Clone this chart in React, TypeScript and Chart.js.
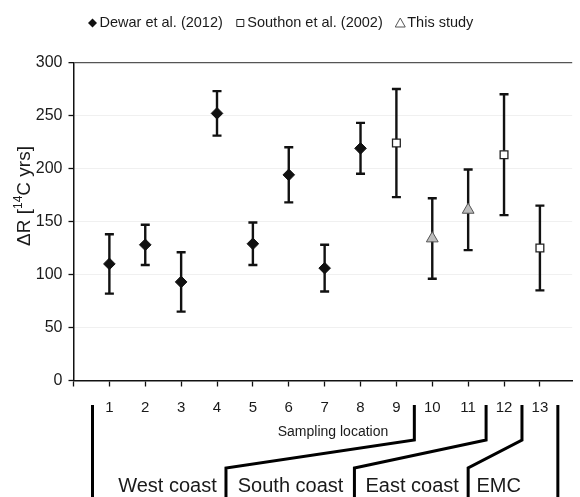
import React, { useEffect, useRef } from 'react';
import { Chart, registerables } from 'chart.js';

Chart.register(...registerables);

// ---- data ----
const dewarLocations = [1, 2, 3, 4, 5, 6, 7, 8];
const dewarValues = [110, 128, 93, 252, 129, 194, 106, 219];
const dewarErrors = [28, 19, 28, 21, 20, 26, 22, 24];

const southonLocations = [9, 12, 13];
const southonValues = [224, 213, 125];
const southonErrors = [51, 57, 40];

const studyLocations = [10, 11];
const studyValues = [134, 161];
const studyErrors = [38, 38];

const xTickLabels = ['1', '2', '3', '4', '5', '6', '7', '8', '9', '10', '11', '12', '13'];
const yTickValues = [0, 50, 100, 150, 200, 250, 300];
const legendLabels = ['Dewar et al. (2012)', 'Southon et al. (2002)', 'This study'];
const regionNames = ['West coast', 'South coast', 'East coast', 'EMC'];
const xAxisTitle = 'Sampling location';

const FONT = '"Liberation Sans", Arial, sans-serif';
const TEXT = '#1a1a1a';

const errorBarPlugin = {
  id: 'errorBars',
  beforeDatasetsDraw(chart: any) {
    const ctx = chart.ctx;
    const ys = chart.scales.y;
    ctx.save();
    ctx.strokeStyle = '#111';
    ctx.lineWidth = 2.4;
    chart.data.datasets.forEach((ds: any, di: number) => {
      const meta = chart.getDatasetMeta(di);
      meta.data.forEach((el: any, i: number) => {
        const v = ds.data[i].y;
        const e = ds.errors[i];
        const x = el.x;
        const yt = ys.getPixelForValue(v + e);
        const yb = ys.getPixelForValue(v - e);
        ctx.beginPath();
        ctx.moveTo(x, yt);
        ctx.lineTo(x, yb);
        ctx.moveTo(x - 4.5, yt);
        ctx.lineTo(x + 4.5, yt);
        ctx.moveTo(x - 4.5, yb);
        ctx.lineTo(x + 4.5, yb);
        ctx.stroke();
      });
    });
    ctx.restore();
  },
};

function drawMarker(ctx: CanvasRenderingContext2D, kind: string, cx: number, cy: number) {
  ctx.save();
  ctx.beginPath();
  if (kind === 'diamond') {
    ctx.moveTo(cx - 4.5, cy);
    ctx.lineTo(cx, cy - 4.5);
    ctx.lineTo(cx + 4.5, cy);
    ctx.lineTo(cx, cy + 4.5);
    ctx.closePath();
    ctx.fillStyle = '#111';
    ctx.fill();
  } else if (kind === 'square') {
    ctx.rect(cx - 3.5, cy - 3.5, 7, 7);
    ctx.fillStyle = '#fff';
    ctx.fill();
    ctx.strokeStyle = '#222';
    ctx.lineWidth = 1;
    ctx.stroke();
  } else {
    ctx.moveTo(cx, cy - 5);
    ctx.lineTo(cx + 5, cy + 4);
    ctx.lineTo(cx - 5, cy + 4);
    ctx.closePath();
    ctx.fillStyle = '#fff';
    ctx.fill();
    ctx.strokeStyle = '#555';
    ctx.lineWidth = 1;
    ctx.stroke();
  }
  ctx.restore();
}

const decorPlugin = {
  id: 'decor',
  afterDraw(chart: any) {
    const ctx: CanvasRenderingContext2D = chart.ctx;
    const xs = chart.scales.x;
    const H = chart.height;
    ctx.save();

    // legend
    ctx.font = `14.5px ${FONT}`;
    ctx.fillStyle = TEXT;
    ctx.textBaseline = 'middle';
    ctx.textAlign = 'left';
    const kinds = ['diamond', 'square', 'triangle'];
    let cursor = 88;
    const ly = 23;
    legendLabels.forEach((lab, i) => {
      drawMarker(ctx, kinds[i], cursor + 4.5, ly);
      ctx.fillStyle = TEXT;
      ctx.fillText(lab, cursor + 11.5, ly);
      cursor = cursor + 11.5 + ctx.measureText(lab).width + 13;
    });

    // y axis title with superscript
    ctx.save();
    ctx.translate(23, 196);
    ctx.rotate(-Math.PI / 2);
    const big = `19px ${FONT}`;
    const small = `12px ${FONT}`;
    const p1 = '\u0394R [';
    const p2 = '14';
    const p3 = 'C yrs]';
    ctx.font = big;
    const w1 = ctx.measureText(p1).width;
    const w3 = ctx.measureText(p3).width;
    ctx.font = small;
    const w2 = ctx.measureText(p2).width;
    let tx = -(w1 + w2 + w3) / 2;
    ctx.textBaseline = 'alphabetic';
    ctx.fillStyle = TEXT;
    ctx.font = big;
    ctx.fillText(p1, tx, 7);
    tx += w1;
    ctx.font = small;
    ctx.fillText(p2, tx, -1);
    tx += w2;
    ctx.font = big;
    ctx.fillText(p3, tx, 7);
    ctx.restore();

    // x axis title
    ctx.font = `14px ${FONT}`;
    ctx.textAlign = 'center';
    ctx.textBaseline = 'middle';
    ctx.fillStyle = TEXT;
    ctx.fillText(xAxisTitle, 333, 432);

    // region brackets
    const top = 405;
    const elbow = 440;
    const foot = 468;
    ctx.strokeStyle = '#000';
    ctx.lineWidth = 3;
    ctx.lineJoin = 'miter';
    const vline = (xv: number) => {
      const px = xs.getPixelForValue(xv);
      ctx.beginPath();
      ctx.moveTo(px, top);
      ctx.lineTo(px, H);
      ctx.stroke();
    };
    vline(0.53);
    vline(13.5);
    const bend = (xTop: number, xBottom: number) => {
      const a = xs.getPixelForValue(xTop);
      const b = xs.getPixelForValue(xBottom);
      ctx.beginPath();
      ctx.moveTo(a, top);
      ctx.lineTo(a, elbow);
      ctx.lineTo(b, foot);
      ctx.lineTo(b, H);
      ctx.stroke();
    };
    bend(9.5, 4.25);
    bend(11.5, 7.83);
    bend(12.5, 11.0);

    // region labels
    const centers = [2.62, 6.05, 9.44, 11.85];
    ctx.font = `20px ${FONT}`;
    ctx.fillStyle = TEXT;
    ctx.textAlign = 'center';
    ctx.textBaseline = 'middle';
    regionNames.forEach((name, i) => {
      ctx.fillText(name, xs.getPixelForValue(centers[i]), 486);
    });

    ctx.restore();
  },
};

export default function App() {
  const ref = useRef<HTMLCanvasElement | null>(null);

  useEffect(() => {
    document.body.style.margin = '0';
    const canvas = ref.current;
    if (!canvas) return;
    const mk = (locs: number[], vals: number[]) => locs.map((x, i) => ({ x, y: vals[i] }));
    const chart = new Chart(canvas, {
      type: 'scatter',
      data: {
        datasets: [
          {
            label: legendLabels[0],
            data: mk(dewarLocations, dewarValues),
            errors: dewarErrors,
            pointStyle: 'rectRot',
            pointRadius: 5.8,
            backgroundColor: '#111',
            borderColor: '#111',
            borderWidth: 1,
          } as any,
          {
            label: legendLabels[1],
            data: mk(southonLocations, southonValues),
            errors: southonErrors,
            pointStyle: 'rect',
            pointRadius: 5.5,
            backgroundColor: '#fff',
            borderColor: '#222',
            borderWidth: 1.3,
          } as any,
          {
            label: legendLabels[2],
            data: mk(studyLocations, studyValues),
            errors: studyErrors,
            pointStyle: 'triangle',
            pointRadius: 6.8,
            backgroundColor: '#bdbdbd',
            borderColor: '#555',
            borderWidth: 1,
          } as any,
        ],
      },
      options: {
        responsive: false,
        animation: false,
        events: [],
        layout: { padding: { top: 62.5, left: 0, right: 0, bottom: 0 } },
        plugins: {
          legend: { display: false },
          tooltip: { enabled: false },
        },
        scales: {
          x: {
            type: 'linear',
            min: 0,
            max: 13.9,
            afterFit(scale: any) {
              scale.height = 116.5;
            },
            border: { display: true, color: '#111', width: 1.5 },
            grid: {
              drawOnChartArea: false,
              drawTicks: true,
              tickLength: 6,
              tickColor: '#111',
              tickWidth: 1.3,
            },
            ticks: {
              stepSize: 1,
              includeBounds: false,
              autoSkip: false,
              maxRotation: 0,
              padding: 12,
              color: TEXT,
              font: { family: FONT, size: 15 },
              callback: (v: any) => (v >= 1 && v <= 13 ? xTickLabels[v - 1] : ''),
            },
          },
          y: {
            type: 'linear',
            min: 0,
            max: 300,
            afterFit(scale: any) {
              scale.width = 73.5;
            },
            afterBuildTicks(scale: any) {
              scale.ticks = yTickValues.map((v) => ({ value: v }));
            },
            border: { display: true, color: '#111', width: 1.5 },
            grid: {
              color: (c: any) =>
                c.tick && c.tick.value === 300 ? '#555' : c.tick && c.tick.value === 0 ? 'rgba(0,0,0,0)' : '#f0f0f0',
              lineWidth: (c: any) => (c.tick && c.tick.value === 300 ? 1.3 : 1),
              tickColor: '#111',
              tickLength: 5,
              tickWidth: 1.3,
            },
            ticks: {
              padding: 6,
              color: TEXT,
              font: { family: FONT, size: 16 },
            },
          },
        },
      },
      plugins: [errorBarPlugin, decorPlugin],
    });
    return () => chart.destroy();
  }, []);

  return (
    <div style={{ position: 'absolute', left: 0, top: 0, width: 580, height: 497, background: '#fff' }}>
      <canvas ref={ref} width={580} height={497} style={{ width: 580, height: 497, display: 'block' }} />
    </div>
  );
}
